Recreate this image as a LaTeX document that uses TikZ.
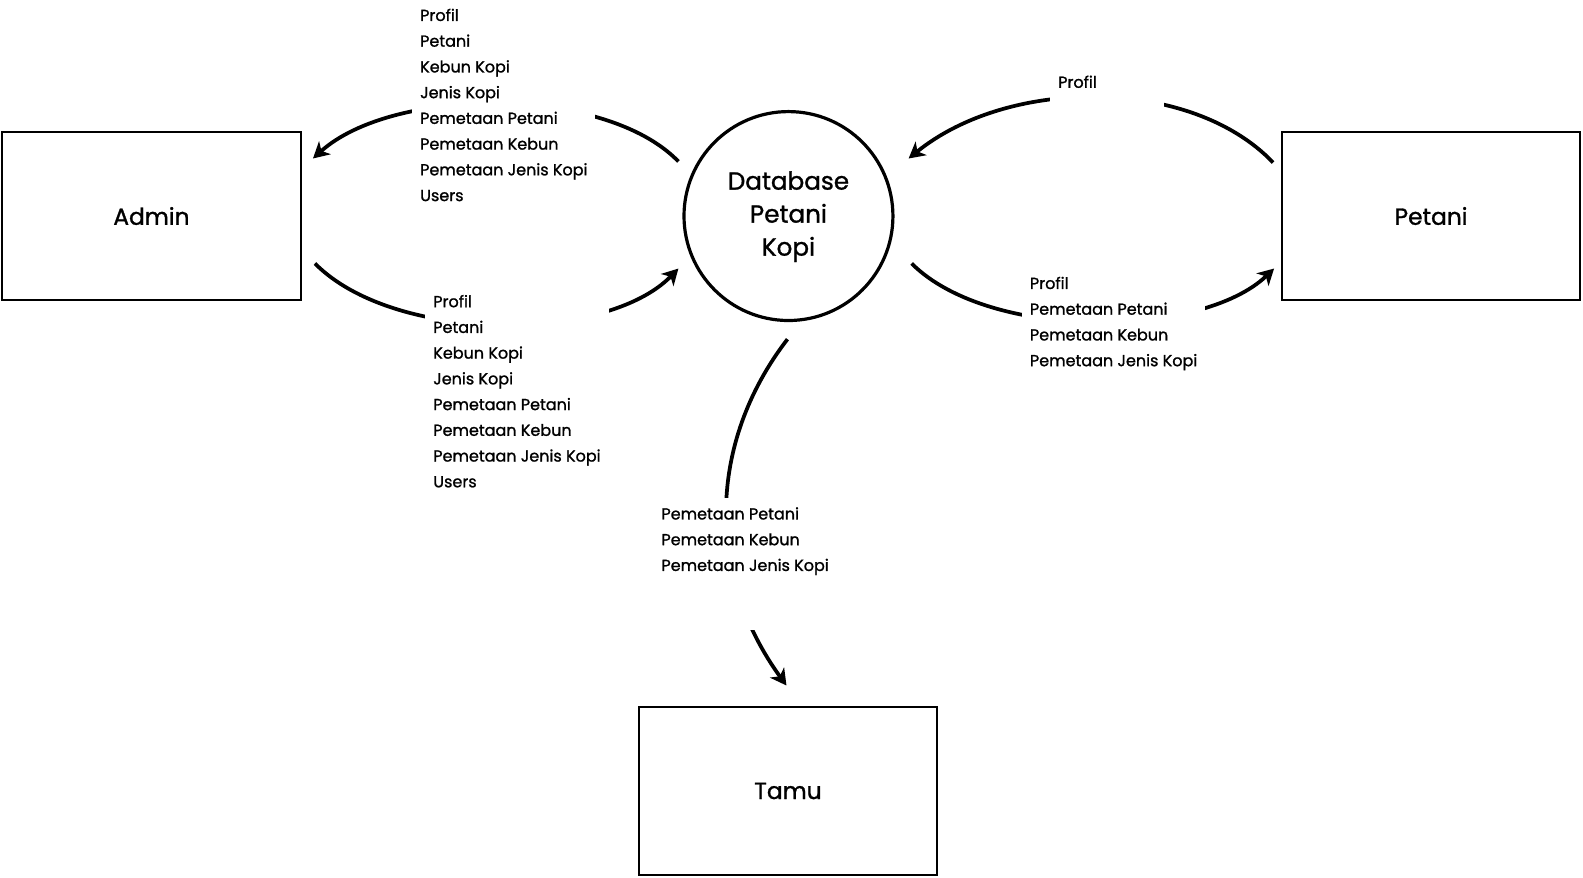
\documentclass[tikz,border=0pt]{standalone}
\usepackage{fontspec}
\setmainfont{Poppins}[FakeBold=1.2]
\usetikzlibrary{arrows.meta,calc}
\begin{document}
\begin{tikzpicture}[x=0.7572pt,y=-0.7572pt,
  box/.style={draw, line width=1.6pt, minimum width=224pt, minimum height=125.7pt, inner sep=0pt, font=\fontsize{17.5}{24}\selectfont},
  store/.style={draw, circle, line width=2.4pt, minimum size=156.7pt, inner sep=0pt, align=center, font=\fontsize{18.5}{24.75}\selectfont},
  flow/.style={line width=2.8pt, -{Stealth[length=12pt,width=13pt,inset=3.5pt]}},
  lbl/.style={fill=white, align=left, anchor=west, inner xsep=6pt, inner ysep=3pt, font=\fontsize{12}{19.3}\selectfont}]
\useasboundingbox (0,0) rectangle (1568,868.7);

\node[box] (admin) at (150,214) {Admin};
\node[box] (petani) at (1417.5,214) {Petani};
\node[box] (tamu) at (780.5,783.5) {Tamu};
\node[store] (db) at (781,214) {\raisebox{-2pt}{\begin{tabular}{@{}c@{}}Database\\Petani\\Kopi\end{tabular}}};

% DB -> Admin
\draw[flow] ($(db)+(-109,-54)$) .. controls (600,85) and (390,85) .. ($(admin)+(160,-57)$);
\node[lbl] (l1) at (408,104) {Profil\\Petani\\Kebun Kopi\\Jenis Kopi\\Pemetaan Petani\\Pemetaan Kebun\\Pemetaan Jenis Kopi\\Users};

% Admin -> DB
\draw[flow] ($(admin)+(162,47)$) .. controls (390,340) and (600,340) .. ($(db)+(-109,52)$);
\node[lbl] (l2) at (421,387.5) {Profil\\Petani\\Kebun Kopi\\Jenis Kopi\\Pemetaan Petani\\Pemetaan Kebun\\Pemetaan Jenis Kopi\\Users};

% Petani -> DB
\draw[flow] ($(petani)+(-156.5,-53)$) .. controls (1180,76) and (1000,76) .. ($(db)+(119,-57)$);
\node[lbl, text width=73.4pt, inner ysep=14pt] (l3) at (1040,81) {Profil};

% DB -> Petani
\draw[flow] ($(db)+(122,47)$) .. controls (980,338) and (1190,335) .. ($(petani)+(-155.5,52)$);
\node[lbl] (l4) at (1012,320.5) {Profil\\Pemetaan Petani\\Pemetaan Kebun\\Pemetaan Jenis Kopi};

% DB -> Tamu
\draw[flow] ($(db)+(-1,122)$) .. controls (700,440) and (700,570) .. ($(tamu)+(-1.5,-104.5)$);
\node[lbl, anchor=north west, inner ysep=7pt] (l5) at (647,493) {Pemetaan Petani\\Pemetaan Kebun\\Pemetaan Jenis Kopi\\[18pt]\mbox{}};
\end{tikzpicture}
\end{document}
